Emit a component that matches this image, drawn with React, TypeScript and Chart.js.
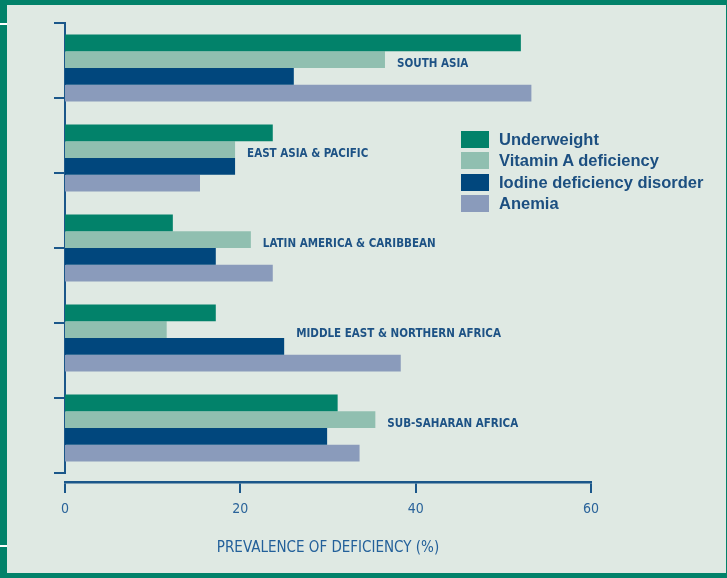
import React, { useEffect, useRef } from 'react';
import { Chart, registerables } from 'chart.js';

Chart.register(...registerables);

// ---- data ----
const categories = [
  'SOUTH ASIA',
  'EAST ASIA & PACIFIC',
  'LATIN AMERICA & CARIBBEAN',
  'MIDDLE EAST & NORTHERN AFRICA',
  'SUB-SAHARAN AFRICA',
];
const seriesNames = ['Underweight', 'Vitamin A deficiency', 'Iodine deficiency disorder', 'Anemia'];
const underweight = [52, 23.7, 12.3, 17.2, 31.1];
const vitaminA = [36.5, 19.4, 21.2, 11.6, 35.4];
const iodine = [26.1, 19.4, 17.2, 25, 29.9];
const anemia = [53.2, 15.4, 23.7, 38.3, 33.6];
const yFrameTicks = [0, 1, 2, 3, 4, 5, 6];
const xAxisTitle = 'PREVALENCE OF DEFICIENCY (%)';

// ---- styles ----
const seriesColors = ['#02826a', '#90bfb0', '#01477d', '#8a9bbb'];
const AXIS = '#1b578a';
const TEXT = '#1d5285';
const BG = '#dfe9e3';
const FRAME = '#02826a';
const NARROW = '"Liberation Sans Narrow", "DejaVu Sans Condensed", "Liberation Sans", sans-serif';

export default function App() {
  const ref = useRef<HTMLCanvasElement>(null);

  useEffect(() => {
    document.body.style.margin = '0';
    const seriesData = [underweight, vitaminA, iodine, anemia];

    const labelPlugin = {
      id: 'groupLabels',
      afterDatasetsDraw(chart: any) {
        const { ctx } = chart;
        const x = chart.scales.x;
        const y = chart.scales.y;
        ctx.save();
        ctx.font = `bold 11.5px ${NARROW}`;
        ctx.fillStyle = TEXT;
        ctx.textBaseline = 'middle';
        ctx.textAlign = 'left';
        categories.forEach((c, i) => {
          const v = Math.max(vitaminA[i], iodine[i]);
          ctx.fillText(c, x.getPixelForValue(v) + 12, y.getPixelForValue(i) - 4);
        });
        ctx.restore();
      },
    };

    const chart = new Chart(ref.current as HTMLCanvasElement, {
      type: 'bar',
      data: {
        labels: categories,
        datasets: seriesNames.map((name, k) => ({
          label: name,
          data: seriesData[k],
          backgroundColor: seriesColors[k],
          borderWidth: 0,
        })),
      },
      options: {
        indexAxis: 'y',
        animation: false,
        responsive: false,
        devicePixelRatio: 1,
        layout: { padding: { left: 52, top: 23, right: 136, bottom: 0 } },
        datasets: { bar: { categoryPercentage: 0.744, barPercentage: 1 } },
        plugins: { legend: { display: false }, tooltip: { enabled: false } },
        scales: {
          y: { display: false },
          yTicks: {
            type: 'linear',
            position: 'left',
            offset: false,
            min: yFrameTicks[0],
            max: yFrameTicks[yFrameTicks.length - 1],
            ticks: { display: false },
            afterBuildTicks(s: any) {
              s.ticks = yFrameTicks.map((v) => ({ value: v }));
            },
            grid: { offset: false, drawOnChartArea: false, tickLength: 11, color: AXIS, lineWidth: 2 },
            border: { color: AXIS, width: 2 },
            afterFit(s: any) {
              s.width = 13;
            },
          },
          xGap: {
            type: 'linear',
            position: 'bottom',
            weight: 0,
            ticks: { display: false },
            grid: { display: false },
            border: { display: false },
            afterFit(s: any) {
              s.height = 9;
            },
          },
          x: {
            type: 'linear',
            position: 'bottom',
            weight: 1,
            min: 0,
            max: 60,
            ticks: {
              stepSize: 20,
              color: '#2a639a',
              font: { family: NARROW, size: 14 },
              padding: 8,
            },
            grid: { drawOnChartArea: false, tickLength: 11, color: AXIS, lineWidth: 2 },
            border: { color: AXIS, width: 2.5 },
            title: {
              display: true,
              text: xAxisTitle,
              color: '#23609a',
              font: { family: NARROW, size: 15 },
              padding: { top: 0, bottom: 21 },
            },
            afterFit(s: any) {
              s.height = 96;
            },
          },
        },
      } as any,
      plugins: [labelPlugin],
    });
    return () => chart.destroy();
  }, []);

  return (
    <div style={{ position: 'relative', width: 727, height: 578, background: FRAME, overflow: 'hidden' }}>
      <div style={{ position: 'absolute', left: 7, top: 5, width: 719, height: 568, background: BG }} />
      <div style={{ position: 'absolute', left: 0, top: 23, width: 7, height: 2, background: '#ffffff' }} />
      <div style={{ position: 'absolute', left: 0, top: 545, width: 7, height: 2, background: '#ffffff' }} />
      <canvas ref={ref} width={727} height={578} style={{ position: 'absolute', left: 0, top: 0 }} />
      <div style={{ position: 'absolute', left: 461, top: 129, fontFamily: '"Liberation Sans", Arial, sans-serif', fontWeight: 'bold', fontSize: 16.5, color: '#1c4f80' }}>
        {seriesNames.map((n, k) => (
          <div key={n} style={{ display: 'flex', alignItems: 'center', height: 21.3 }}>
            <div style={{ width: 28, height: 17, background: seriesColors[k], marginRight: 10 }} />
            <span style={{ lineHeight: '21px' }}>{n}</span>
          </div>
        ))}
      </div>
    </div>
  );
}
